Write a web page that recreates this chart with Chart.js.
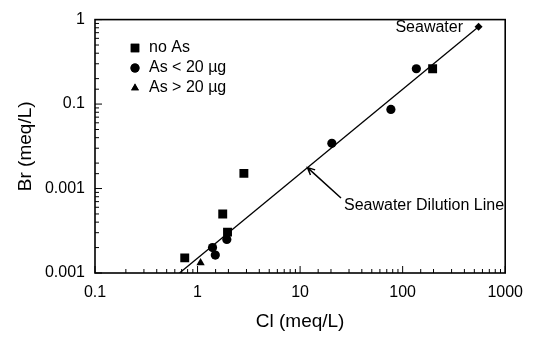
<!DOCTYPE html>
<html>
<head>
<meta charset="utf-8">
<script src="https://cdn.jsdelivr.net/npm/chart.js@4.4.0/dist/chart.umd.min.js"></script>
<style>
  html, body { margin: 0; padding: 0; background: #fff; }
</style>
</head>
<body>
<canvas id="graph" width="533" height="337"></canvas>
<script>
// values (Cl, Br in meq/L)
const noAsCl = [0.75, 1.96, 1.76, 2.83, 196];
const noAsBr = [0.00151, 0.00305, 0.0050, 0.0151, 0.262];

const lowAsCl = [1.40, 1.49, 1.93, 20.4, 76.8, 136];
const lowAsBr = [0.0020, 0.00163, 0.0025, 0.0343, 0.0865, 0.262];

const highAsCl = [1.07];
const highAsBr = [0.00132];

const seawaterCl = [550];
const seawaterBr = [0.825];

// dilution line: Br = 0.0015 * Cl
const dilutionCl = [0.667, 550];
const dilutionBr = [0.001, 0.825];

const xTickLabels = ["0.1", "1", "10", "100", "1000"];
const yTickLabels = ["0.001", "0.001", "0.1", "1"]; // as printed in the original

const legendNames = ["no As", "As < 20 \u00b5g", "As > 20 \u00b5g"];
const legendStyles = ["rect", "circle", "triangle"];
const legendSizes = [6, 4.5, 4.5];

const toPoints = (xs, ys) => xs.map((x, i) => ({x: x, y: ys[i]}));
const isPow10 = v => Math.abs(Math.log10(v) - Math.round(Math.log10(v))) < 1e-9;

const FONT = "'Liberation Sans', Arial, Helvetica, sans-serif";

const framePlugin = {
    id: 'frame',
    afterDraw(chart){
        const ctx = chart.ctx;
        const a = chart.chartArea;
        const xs = chart.scales.x, ys = chart.scales.y;

        ctx.save();
        ctx.strokeStyle = '#000';
        ctx.lineWidth = 1.6;
        ctx.strokeRect(a.left, a.top, a.right - a.left, a.bottom - a.top);

        // inward ticks
        ctx.lineWidth = 1;
        ctx.beginPath();
        xs.ticks.forEach(t => {
            const px = xs.getPixelForValue(t.value);
            const len = isPow10(t.value) ? 7 : 4;
            ctx.moveTo(px, a.bottom);
            ctx.lineTo(px, a.bottom - len);
        });
        ys.ticks.forEach(t => {
            const py = ys.getPixelForValue(t.value);
            const len = isPow10(t.value) ? 7 : 4;
            ctx.moveTo(a.left, py);
            ctx.lineTo(a.left + len, py);
        });
        ctx.stroke();

        // legend
        ctx.fillStyle = '#000';
        ctx.font = "16px " + FONT;
        ctx.textBaseline = 'middle';
        ctx.textAlign = 'left';
        legendNames.forEach((name, i) => {
            const y = 48 + i * 20;
            Chart.helpers.drawPoint(ctx, {pointStyle: legendStyles[i], radius: legendSizes[i], rotation: 0, borderWidth: 0}, 135, y);
            ctx.fill();
            ctx.fillText(name, 149, y);
        });

        // annotations
        ctx.textAlign = 'right';
        ctx.fillText("Seawater", 463, 28);
        ctx.textAlign = 'left';
        ctx.fillText("Seawater Dilution Line", 344, 206);

        const tipX = xs.getPixelForValue(11.8), tipY = ys.getPixelForValue(0.0177);
        const tailX = 341, tailY = 198;
        ctx.lineWidth = 1.5;
        ctx.beginPath();
        ctx.moveTo(tailX, tailY);
        ctx.lineTo(tipX, tipY);
        const ang = Math.atan2(tipY - tailY, tipX - tailX);
        ctx.moveTo(tipX - 8 * Math.cos(ang - 0.45), tipY - 8 * Math.sin(ang - 0.45));
        ctx.lineTo(tipX, tipY);
        ctx.lineTo(tipX - 8 * Math.cos(ang + 0.45), tipY - 8 * Math.sin(ang + 0.45));
        ctx.stroke();
        ctx.restore();
    }
};

const markerBase = {type: 'scatter', backgroundColor: '#000', borderColor: '#000', borderWidth: 0};

new Chart(document.querySelector("#graph").getContext("2d"), {
    type: 'scatter',
    data: {
        datasets: [
            {type: 'line', label: 'Seawater Dilution Line', data: toPoints(dilutionCl, dilutionBr),
             borderColor: '#000', borderWidth: 1.3, pointRadius: 0, fill: false},
            Object.assign({}, markerBase, {label: legendNames[0], data: toPoints(noAsCl, noAsBr), pointStyle: 'rect', pointRadius: 6.3}),
            Object.assign({}, markerBase, {label: legendNames[1], data: toPoints(lowAsCl, lowAsBr), pointStyle: 'circle', pointRadius: 4.6}),
            Object.assign({}, markerBase, {label: legendNames[2], data: toPoints(highAsCl, highAsBr), pointStyle: 'triangle', pointRadius: 4.8}),
            Object.assign({}, markerBase, {label: 'Seawater', data: toPoints(seawaterCl, seawaterBr), pointStyle: 'rectRot', pointRadius: 4})
        ]
    },
    options: {
        responsive: false,
        animation: false,
        layout: {padding: {left: 10, right: 23, top: 17, bottom: 0}},
        plugins: {legend: {display: false}, tooltip: {enabled: false}},
        scales: {
            x: {
                type: 'logarithmic', min: 0.1, max: 1000,
                grid: {display: false, drawTicks: false}, border: {display: false},
                ticks: {
                    color: '#000', font: {family: FONT, size: 16}, padding: 10,
                    autoSkip: false, maxRotation: 0,
                    callback: v => isPow10(v) ? xTickLabels[Math.round(Math.log10(v)) + 1] : ''
                },
                title: {display: true, text: 'Cl (meq/L)', color: '#000', font: {family: FONT, size: 19}},
                afterFit(scale){ scale.height = 64; }
            },
            y: {
                type: 'logarithmic', min: 0.001, max: 1,
                grid: {display: false, drawTicks: false}, border: {display: false},
                ticks: {
                    color: '#000', font: {family: FONT, size: 16}, padding: 10,
                    autoSkip: false,
                    callback: v => isPow10(v) ? yTickLabels[Math.round(Math.log10(v)) + 3] : ''
                },
                title: {display: true, text: 'Br (meq/L)', color: '#000', font: {family: FONT, size: 19}},
                afterFit(scale){ scale.width = 85; }
            }
        }
    },
    plugins: [framePlugin]
});
</script>
</body>
</html>
